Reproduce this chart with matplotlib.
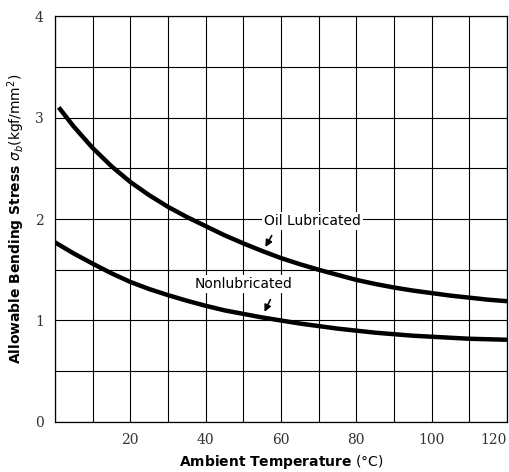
import matplotlib.pyplot as plt

# ===== data =====
temp_oil = [1, 5, 10, 15, 20, 25, 30, 35, 40, 45, 50, 55, 60, 65, 70, 75, 80,
            85, 90, 95, 100, 105, 110, 115, 120]
stress_oil = [3.10, 2.91, 2.70, 2.52, 2.365, 2.235, 2.12, 2.02, 1.93, 1.84, 1.76,
              1.685, 1.615, 1.555, 1.50, 1.45, 1.40, 1.36, 1.325, 1.295, 1.27,
              1.245, 1.225, 1.205, 1.19]

temp_dry = [0, 5, 10, 15, 20, 25, 30, 35, 40, 45, 50, 55, 60, 65, 70, 75, 80, 85,
            90, 95, 100, 105, 110, 115, 120]
stress_dry = [1.77, 1.66, 1.56, 1.465, 1.38, 1.31, 1.25, 1.195, 1.145, 1.10, 1.065,
              1.03, 1.00, 0.97, 0.945, 0.92, 0.90, 0.88, 0.865, 0.85, 0.84, 0.83,
              0.82, 0.815, 0.81]

x_ticks = [20, 40, 60, 80, 100, 120]
y_ticks = [0, 1, 2, 3, 4]

fig = plt.figure(figsize=(5.09, 4.72), dpi=100)
ax = fig.add_axes([0.108, 0.106, 0.888, 0.86])

line_kw = dict(color="black", linewidth=3.2, solid_capstyle="butt",
               solid_joinstyle="round", zorder=3)
ax.plot(temp_oil, stress_oil, **line_kw)
ax.plot(temp_dry, stress_dry, **line_kw)

ax.set_xlim(0, 120)
ax.set_ylim(0, 4)
ax.set_xticks(list(range(0, 121, 10)), minor=True)
ax.set_yticks([v / 2 for v in range(0, 9)], minor=True)
ax.set_xticks(x_ticks)
ax.set_yticks(y_ticks)
ax.set_xticklabels([str(v) for v in x_ticks], family="DejaVu Serif", fontsize=10, color="#333333")
ax.set_yticklabels([str(v) for v in y_ticks], family="DejaVu Serif", fontsize=10, color="#333333")
ax.get_xticklabels()[-1].set_horizontalalignment("right")
ax.tick_params(which="both", length=0, pad=8)
ax.grid(True, which="both", color="black", linewidth=0.8)
for s in ax.spines.values():
    s.set_linewidth(0.9)

ax.set_xlabel(r"$\mathbf{Ambient\ Temperature}$ (°C)", fontsize=10, labelpad=4)
ax.set_ylabel(r"$\mathbf{Allowable\ Bending\ Stress}$ $\sigma_b$(kgf/mm$^2$)", fontsize=10, labelpad=6)

box = dict(facecolor="white", edgecolor="none", pad=1.5)
ax.text(68.3, 1.98, "Oil Lubricated", fontsize=10, ha="center", va="center", bbox=box, zorder=4)
ax.text(50, 1.36, "Nonlubricated", fontsize=10, ha="center", va="center", bbox=box, zorder=4)

arrow = dict(arrowstyle="-|>", color="black", linewidth=1.2, mutation_scale=10)
ax.annotate("", xy=(55.5, 1.70), xytext=(57.9, 1.86), arrowprops=arrow, zorder=5)
ax.annotate("", xy=(55.3, 1.06), xytext=(57.5, 1.23), arrowprops=arrow, zorder=5)

fig.savefig("out.png", dpi=100)
